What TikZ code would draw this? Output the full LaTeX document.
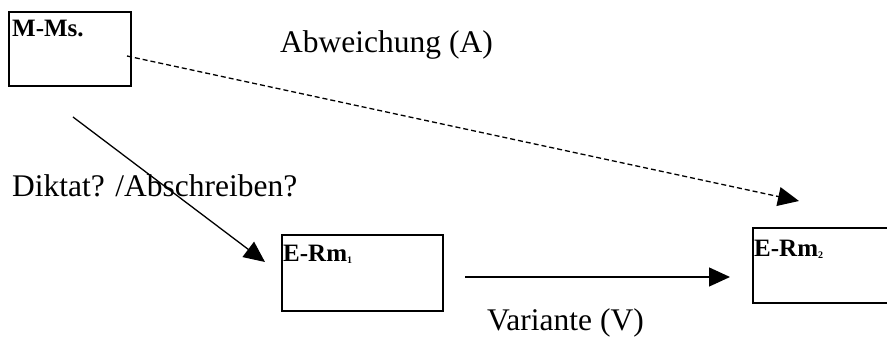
\documentclass[tikz,border=0pt]{standalone}
\usepackage{fontspec}
\setmainfont{Liberation Serif}
\usetikzlibrary{arrows.meta}
\tikzset{
  box/.style={draw=black, line width=1.6pt, rectangle, inner sep=0pt},
  boxlabel/.style={anchor=base west, inner sep=0pt, font=\fontsize{25}{26}\selectfont\bfseries},
  lbl/.style={anchor=base west, inner sep=0pt, font=\fontsize{31.5}{32}\selectfont},
  conn/.style={line width=1.3pt, -{Triangle[length=21pt,width=19pt]}},
  dconn/.style={conn, dash pattern=on 5pt off 3pt},
}
\newcommand{\tinysub}[1]{{\fontsize{10}{10}\selectfont\raisebox{-1.5pt}{#1}}}
\begin{document}
\begin{tikzpicture}[x=1pt,y=-1pt]
  \useasboundingbox (0,0) rectangle (887,347);
  \clip (0,0) rectangle (887,347);
  % boxes
  \node[box, minimum width=122pt, minimum height=74pt] (mms) at (70,49) {};
  \node[box, minimum width=161pt, minimum height=76pt] (erm1) at (362.5,273) {};
  \node[box, minimum width=160pt, minimum height=75pt] (erm2) at (833,265.5) {};
  % box labels
  \node[boxlabel] (mmsl) at (12,37) {M-Ms.};
  \node[boxlabel] (erm1l) at (283,262) {E-Rm\tinysub{1}};
  \node[boxlabel] (erm2l) at (754,257) {E-Rm\tinysub{2}};
  % connector end points
  \coordinate (a1) at (127,56);
  \coordinate (a2) at (799,201);
  \coordinate (b1) at (73,117);
  \coordinate (b2) at (265,262);
  \coordinate (c1) at (465,277);
  \coordinate (c2) at (730,277);
  % connectors
  \draw[dconn] (a1) -- (a2);
  \draw[conn] (b1) -- (b2);
  \draw[conn] (c1) -- (c2);
  % texts
  \node[lbl] (abw) at (280,53) {Abweichung (A)};
  \node[lbl] (dik) at (12,197) {Diktat? /Abschreiben?};
  \node[lbl] (var) at (487,331) {Variante (V)};
\end{tikzpicture}
\end{document}
